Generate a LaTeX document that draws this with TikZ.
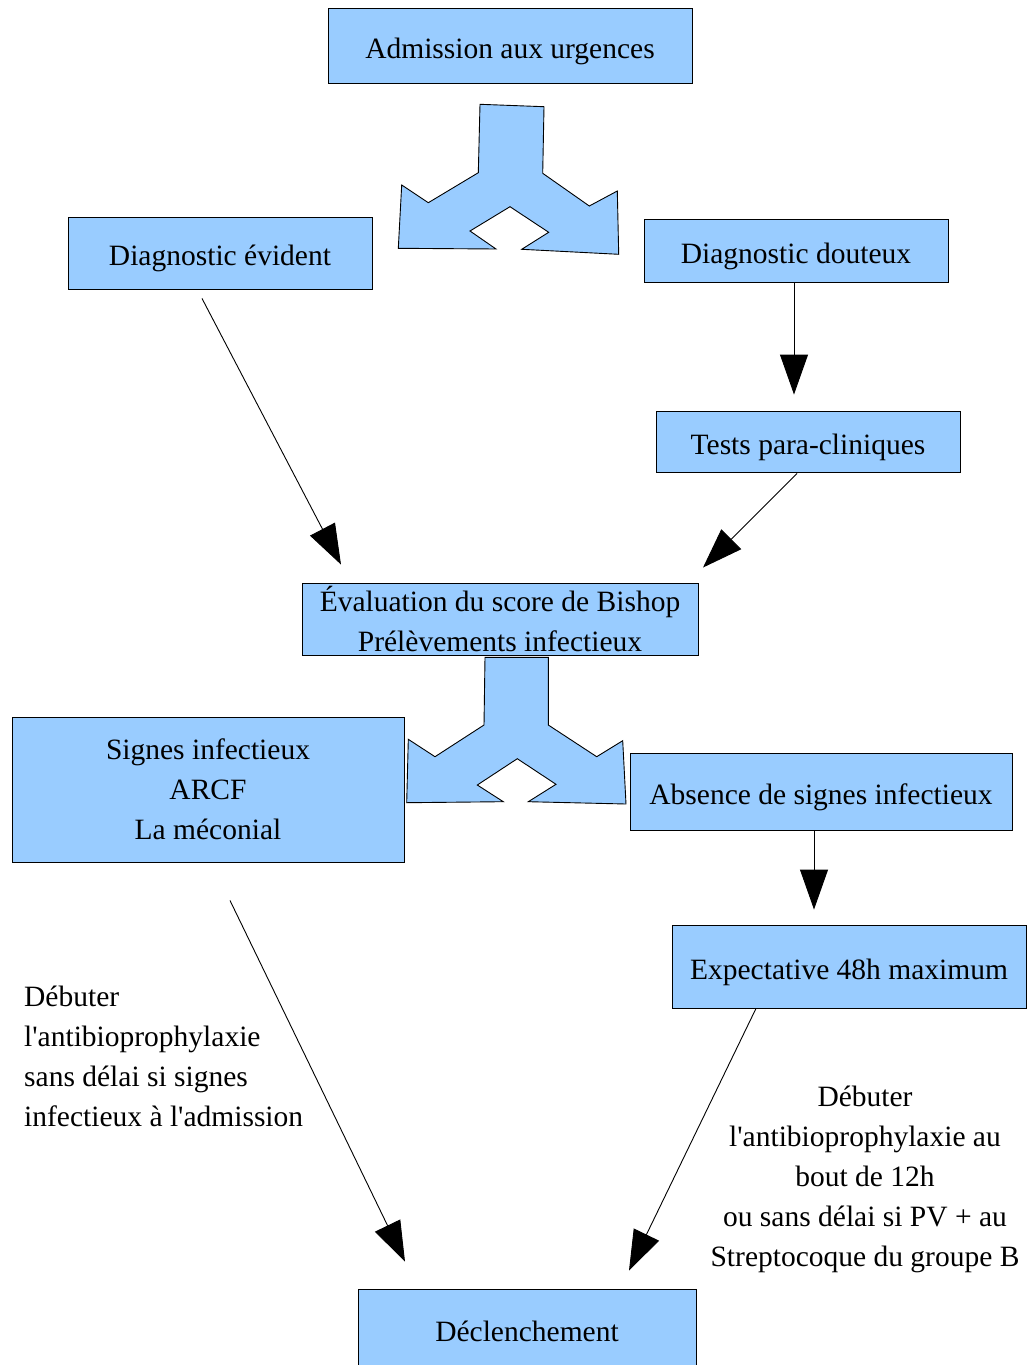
\documentclass[tikz,border=0pt]{standalone}
\usepackage{fontspec}
\setmainfont{Liberation Serif}[Ligatures=TeXOff]
\usetikzlibrary{arrows.meta}
\definecolor{boxblue}{HTML}{99CCFF}
\begin{document}
\begin{tikzpicture}[x=1pt,y=-1pt,
  box/.style={draw=black,line width=0.9pt,fill=boxblue,inner sep=0pt,align=center,
    font=\fontsize{29.5}{40}\selectfont},
  onebox/.style={box,text height=31pt,text depth=6pt},
  note/.style={inner sep=0pt,font=\fontsize{29.5}{40}\selectfont},
  arr/.style={line width=0.9pt,-{Triangle[length=40pt,width=28pt]}},
  split/.style={draw=black,line width=0.9pt,fill=boxblue,line join=miter}]
\useasboundingbox (0,0) rectangle (1034,1365);

\node[onebox,minimum width=364pt,minimum height=75pt] (adm) at (510,45.5) {Admission aux urgences};
\node[onebox,minimum width=304pt,minimum height=72pt] (evid) at (220,253) {Diagnostic évident};
\node[onebox,minimum width=304pt,minimum height=63pt] (dout) at (796,250.5) {Diagnostic douteux};
\node[onebox,minimum width=304pt,minimum height=61pt] (tests) at (808,441.5) {Tests para-cliniques};
\node[box,minimum width=396pt,minimum height=72pt] (eval) at (500,619) {Évaluation du score de Bishop\\Prélèvements infectieux};
\node[box,minimum width=392pt,minimum height=145pt] (signes) at (208,789.5) {Signes infectieux\\ARCF\\La méconial};
\node[onebox,minimum width=382pt,minimum height=77pt] (abs) at (821,791.5) {Absence de signes infectieux};
\node[onebox,minimum width=354pt,minimum height=83pt] (expe) at (849,966.5) {Expectative 48h maximum};
\node[onebox,minimum width=338pt,minimum height=79pt] (decl) at (527,1328.5) {Déclenchement};

% split arrows
\draw[split] (480,104.3) -- (544,106.7) -- (542.7,173.3) -- (589.3,206) -- (617.3,191)
  -- (618.7,254.3) -- (521.7,249.3) -- (548.7,232.3) -- (510,206.7) -- (470,231)
  -- (496,249) -- (398.3,248.3) -- (401.7,185) -- (428.3,202.7) -- (478.3,172.7) -- cycle;
\draw[split] (485,657.3) -- (548.3,657.3) -- (548.3,725) -- (596.7,756.7) -- (622.7,740.7)
  -- (626,804) -- (528.3,801.7) -- (556,784.3) -- (517.3,758.7) -- (477.3,785)
  -- (503.3,801.7) -- (406.7,802.7) -- (408.3,739.3) -- (435,756.7) -- (484,725) -- cycle;

% connectors
\draw[arr] ([xshift=-18pt,yshift=-9pt]evid.south) -- ([xshift=-159pt,yshift=18pt]eval.north);
\draw[arr] ([xshift=-2pt]dout.south) -- ([xshift=-14pt,yshift=16pt]tests.north);
\draw[arr] ([xshift=-11pt,yshift=-1pt]tests.south) -- ([xshift=203pt,yshift=15pt]eval.north);
\draw[arr] ([xshift=22pt,yshift=-38pt]signes.south) -- ([xshift=-122pt,yshift=27pt]decl.north);
\draw[arr] ([xshift=-7pt]abs.south) -- ([xshift=-35pt,yshift=15pt]expe.north);
\draw[arr] ([xshift=-93pt]expe.south) -- ([xshift=102pt,yshift=18pt]decl.north);

% notes
\node[note,anchor=west,align=left] (n1) at (24,1056) {Débuter\\l'antibioprophylaxie\\sans délai si signes\\infectieux à l'admission};
\node[note,anchor=center,align=center] (n2) at (865,1179) {Débuter\\l'antibioprophylaxie au\\bout de 12h\\ou sans délai si PV + au\\Streptocoque du groupe B};
\end{tikzpicture}
\end{document}
